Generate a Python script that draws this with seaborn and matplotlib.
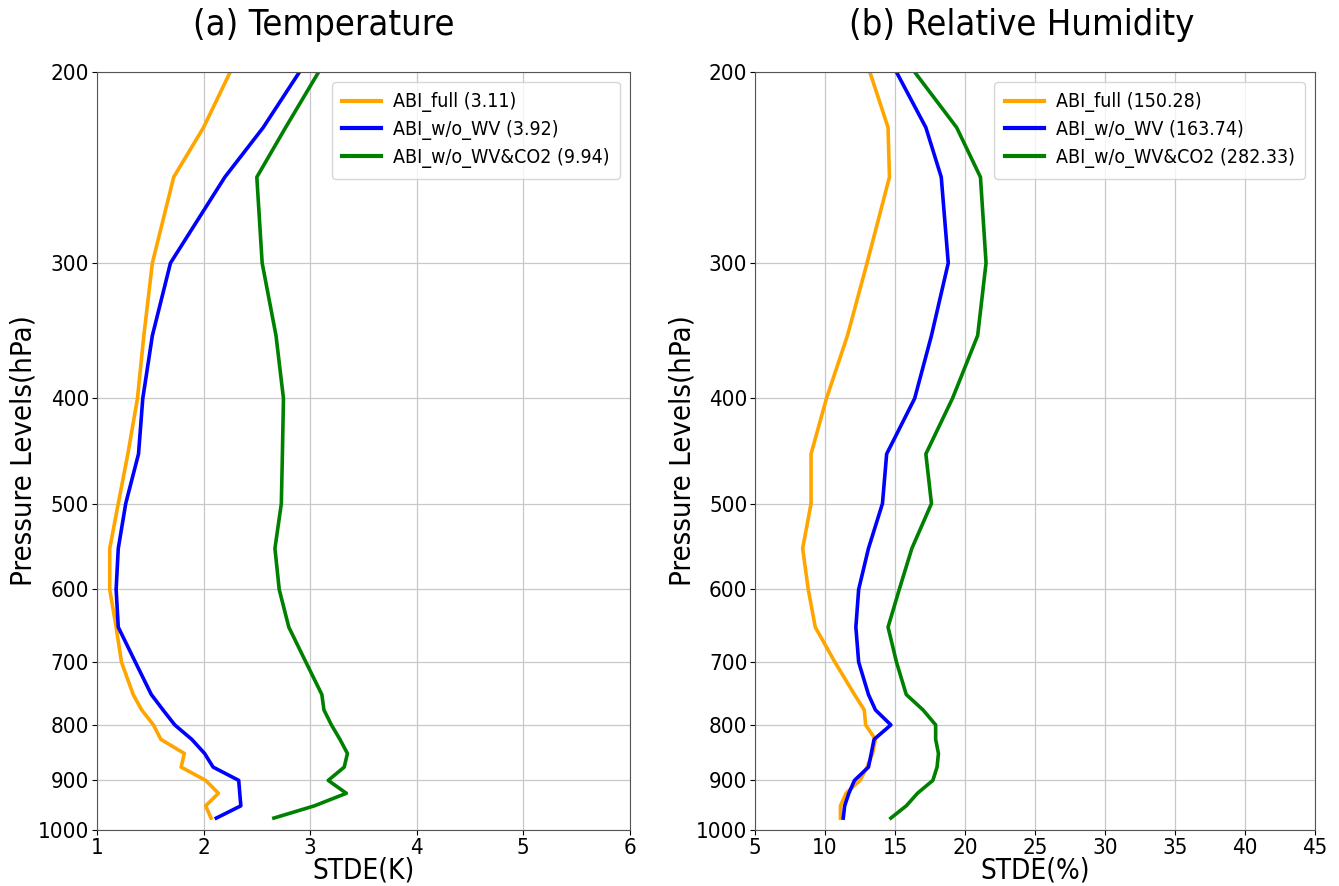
import numpy as np
import pandas as pd
import matplotlib
matplotlib.use("Agg")
import matplotlib.pyplot as plt
import seaborn as sns
from matplotlib.ticker import FixedLocator, NullLocator, FixedFormatter

# pressure levels (hPa)
levels = [200, 225, 250, 300, 350, 400, 450, 500, 550, 600, 650,
          700, 750, 775, 800, 825, 850, 875, 900, 925, 950, 975]

experiments = ["ABI_full", "ABI_w/o_WV", "ABI_w/o_WV&CO2"]
colors = ["orange", "blue", "green"]

# temperature STDE (K)
t_full = [2.25, 2.00, 1.72, 1.52, 1.44, 1.38, 1.29, 1.20, 1.12, 1.12, 1.18,
          1.23, 1.34, 1.42, 1.53, 1.60, 1.82, 1.79, 2.02, 2.14, 2.02, 2.07]
t_nowv = [2.90, 2.56, 2.20, 1.69, 1.52, 1.43, 1.39, 1.27, 1.20, 1.18, 1.20,
          1.36, 1.51, 1.62, 1.73, 1.89, 2.01, 2.09, 2.33, 2.34, 2.35, 2.12]
t_nowvco2 = [3.08, 2.77, 2.50, 2.55, 2.68, 2.75, 2.74, 2.73, 2.67, 2.71, 2.80,
             2.96, 3.11, 3.13, 3.20, 3.28, 3.35, 3.32, 3.17, 3.34, 3.04, 2.66]
t_totals = [3.11, 3.92, 9.94]

# relative humidity STDE (%)
rh_full = [13.2, 14.5, 14.6, 13.0, 11.6, 10.1, 9.0, 9.0, 8.4, 8.8, 9.3,
           10.7, 12.1, 12.8, 12.9, 13.6, 13.4, 13.0, 12.5, 11.5, 11.1, 11.1]
rh_nowv = [15.1, 17.2, 18.3, 18.8, 17.6, 16.4, 14.4, 14.1, 13.1, 12.4, 12.2,
           12.4, 13.1, 13.6, 14.7, 13.5, 13.3, 13.1, 12.1, 11.7, 11.4, 11.3]
rh_nowvco2 = [16.4, 19.4, 21.1, 21.5, 20.9, 19.1, 17.2, 17.6, 16.2, 15.3, 14.5,
              15.1, 15.8, 17.0, 17.9, 17.9, 18.1, 18.0, 17.7, 16.6, 15.8, 14.7]
rh_totals = [150.28, 163.74, 282.33]

plt.rcParams["font.family"] = ["DejaVu Sans"]
plt.rcParams["font.stretch"] = "condensed"


def build_frame(series, totals):
    rows = []
    for name, vals, tot in zip(experiments, series, totals):
        label = f"{name} ({tot:.2f})"
        for p, v in zip(levels, vals):
            rows.append({"exp": label, "level": p, "stde": v})
    return pd.DataFrame(rows)


def draw_panel(ax, df, title, xlabel, xticks, title_x):
    labels = df["exp"].unique()
    sns.lineplot(data=df, x="stde", y="level", hue="exp", hue_order=labels,
                 palette=dict(zip(labels, colors)), sort=False, estimator=None,
                 orient="y", linewidth=2.6, ax=ax)
    ax.set_yscale("log")
    ax.set_ylim(1000, 200)
    ax.yaxis.set_major_locator(FixedLocator(list(range(200, 1001, 100))))
    ax.yaxis.set_major_formatter(FixedFormatter([str(v) for v in range(200, 1001, 100)]))
    ax.yaxis.set_minor_locator(NullLocator())
    ax.set_xlim(xticks[0], xticks[-1])
    ax.set_xticks(xticks)
    ax.grid(True, color="#c8c8c8", linewidth=0.9)
    ax.tick_params(labelsize=16, pad=2)
    ax.set_title(title, fontsize=26, pad=27, x=title_x)
    ax.set_xlabel(xlabel, fontsize=20, labelpad=-1)
    ax.set_ylabel("Pressure Levels(hPa)", fontsize=21, labelpad=0)
    for s in ax.spines.values():
        s.set_color("#555555")
    leg = ax.legend(loc="upper right", fontsize=14, title=None,
                    handlelength=2.0, handletextpad=0.6,
                    labelspacing=0.4, borderpad=0.55)
    for line in leg.get_lines():
        line.set_linewidth(3)


fig = plt.figure(figsize=(13.39, 8.86), dpi=100)
ax1 = fig.add_axes([0.0724, 0.0632, 0.398, 0.8555])
ax2 = fig.add_axes([0.5639, 0.0632, 0.4182, 0.8555])

df_t = build_frame([t_full, t_nowv, t_nowvco2], t_totals)
df_rh = build_frame([rh_full, rh_nowv, rh_nowvco2], rh_totals)

draw_panel(ax1, df_t, "(a) Temperature", "STDE(K)", [1, 2, 3, 4, 5, 6], 0.426)
draw_panel(ax2, df_rh, "(b) Relative Humidity", "STDE(%)", list(range(5, 46, 5)), 0.477)

fig.savefig("out.png", dpi=100)
